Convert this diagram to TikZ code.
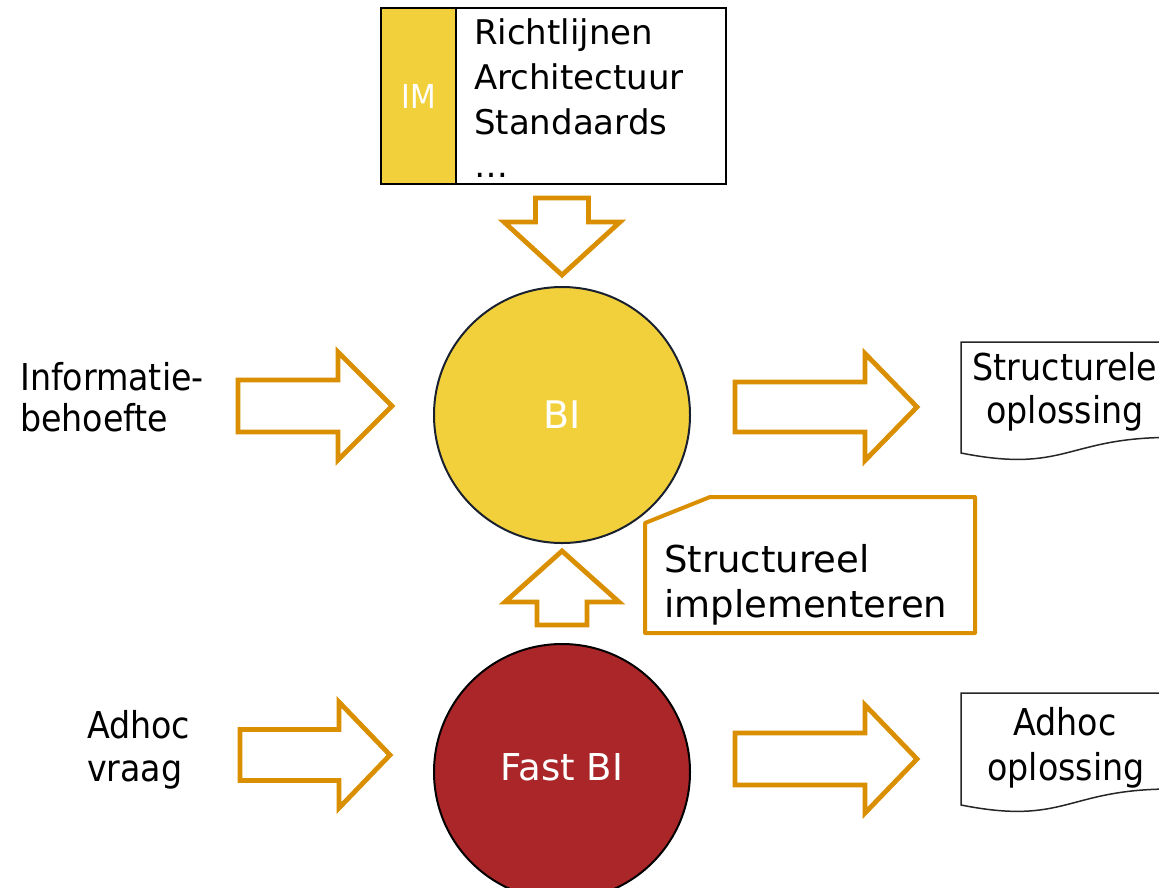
\documentclass[tikz,border=0pt]{standalone}
\usepackage{fontspec}
\setmainfont{DejaVu Sans}
\newfontfamily\tahfont{DejaVu Sans Condensed}
\definecolor{arroworange}{RGB}{217,143,0}
\definecolor{biyellow}{RGB}{242,208,59}
\definecolor{fbired}{RGB}{170,38,40}
\definecolor{rimdark}{RGB}{25,32,48}
\tikzset{
  arrowline/.style={draw=arroworange, line width=4.8, fill=white, line join=miter},
  pics/blockarrow/.style n args={4}{code={
    \path[arrowline] (0,#2) -- ({#1-#4},#2) -- ({#1-#4},#3) -- (#1,0)
      -- ({#1-#4},-#3) -- ({#1-#4},-#2) -- (0,-#2) -- cycle;}},
  tahtext/.style={font=\tahfont\fontsize{37}{40}\selectfont, inner sep=0},
  listtext/.style={font=\fontsize{34}{45}\selectfont, inner sep=0, anchor=base west},
  verdtext/.style={font=\fontsize{37}{45}\selectfont, inner sep=0},
  bubble/.style={circle, draw=rimdark, line width=2, minimum size=256, inner sep=0},
  docshape/.style={draw=black!85, line width=1.5, fill=white},
  calloutline/.style={draw=arroworange, line width=4, fill=white, line join=round},
}
\begin{document}
\begin{tikzpicture}[x=1pt,y=-1pt]
\useasboundingbox (0,0) rectangle (1159,887);
\clip (0,0) rectangle (1159,887);

% IM box
\node (rules) [draw=black, line width=1.8, minimum width=270, minimum height=176, inner sep=0] at (591,96) {};
\node (imcol) [draw=black, line width=1.8, fill=biyellow, minimum width=75, minimum height=176, inner sep=0,
  text=white, font=\tahfont\fontsize{33}{40}\selectfont] at (418.5,96) {IM};
\node (r1) [listtext] at (474,44) {Richtlijnen};
\node (r2) [listtext] at (474,89) {Architectuur};
\node (r3) [listtext] at (474,134) {Standaards};
\node (r4) [listtext] at (474,177) {…};

% circles
\node (bi) [bubble, fill=biyellow, text=white, font=\fontsize{38}{45}\selectfont] at (562,415) {BI};
\node (fbi) [bubble, draw=black, fill=fbired] at (562,772) {};
\node (fbitext) [verdtext, text=white] at (562,767) {Fast BI};

% block arrows
\pic at (238,406) {blockarrow={154}{26}{54}{54}};
\pic at (735,407) {blockarrow={182}{25}{53.5}{52}};
\pic at (240,755) {blockarrow={150}{25.5}{53}{51}};
\pic at (735,759) {blockarrow={182}{26}{54}{52}};
\pic[rotate=-90] at (562,198) {blockarrow={77}{26.5}{58}{53}};
\pic[rotate=90] at (562,625) {blockarrow={74}{25}{57}{51}};

% left texts
\node (info1) [tahtext, anchor=base west] at (20,390) {Informatie-};
\node (info2) [tahtext, anchor=base west] at (20,431) {behoefte};
\node (adh1) [tahtext, anchor=base west] at (87,738) {Adhoc};
\node (adh2) [tahtext, anchor=base west] at (87,781) {vraag};

% document shapes
\path[docshape] (961,342) -- (1171,342) -- (1171,437.4)
  .. controls (1066,437.4) and (1066,473.8) .. (961,453) -- cycle;
\node (so1) [tahtext, anchor=base] at (1065,380) {Structurele};
\node (so2) [tahtext, anchor=base] at (1065,423) {oplossing};
\path[docshape] (961,693) -- (1171,693) -- (1171,789)
  .. controls (1066,789) and (1066,825.8) .. (961,805) -- cycle;
\node (ao1) [tahtext, anchor=base] at (1065,735) {Adhoc};
\node (ao2) [tahtext, anchor=base] at (1066,780) {oplossing};

% callout
\path[calloutline] (645,523) -- (710,497) -- (975,497) -- (975,633) -- (645,633) -- cycle;
\node (si1) [verdtext, anchor=base west] at (664,572) {Structureel};
\node (si2) [verdtext, anchor=base west] at (664,617) {implementeren};
\end{tikzpicture}
\end{document}
